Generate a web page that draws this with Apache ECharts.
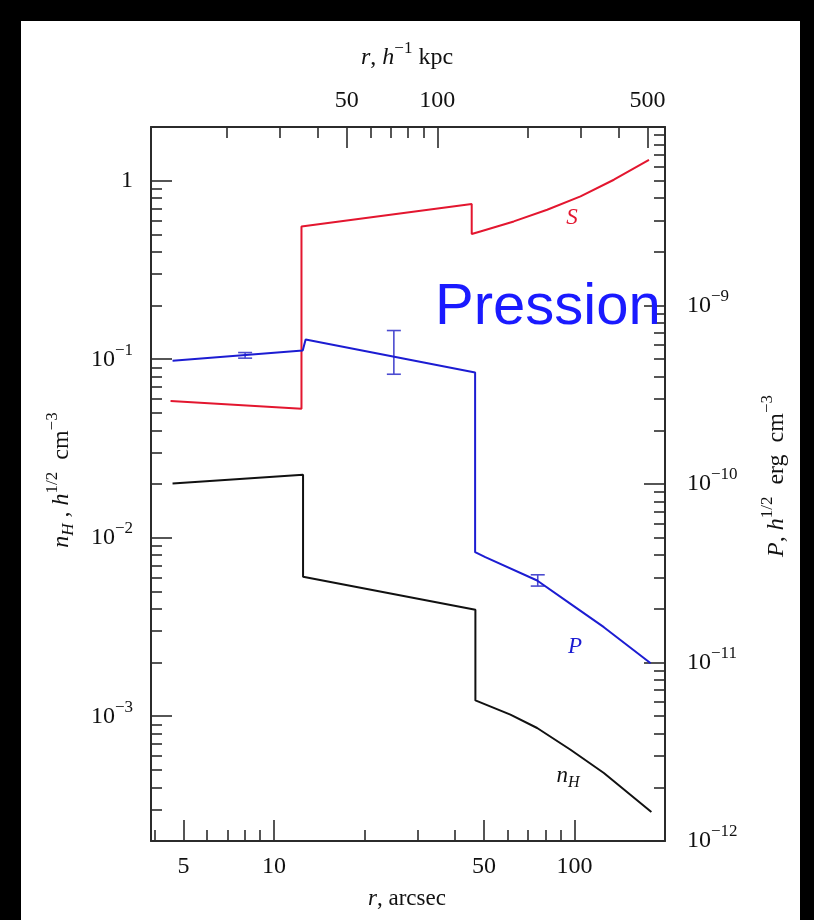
<!DOCTYPE html>
<html><head><meta charset="utf-8">
<script src="https://cdn.jsdelivr.net/npm/echarts@6/dist/echarts.min.js"></script>
<style>
html,body{margin:0;padding:0;background:#000;width:814px;height:920px;overflow:hidden}
#bg{position:absolute;left:21px;top:21px;width:779px;height:899px;background:#fff}
#chart{position:absolute;left:0;top:0;width:814px;height:920px}
</style></head><body><div id="bg"></div><div id="chart"></div>
<script>
// ---- data ----
// radius in arcsec
const nH_r = [4.60, 12.50, 12.50, 46.8, 46.8, 61.2, 75.1, 97.0, 125.2, 180.2];
const nH_v = [0.0201, 0.02254, 0.00605, 0.00395, 0.001226, 0.00102, 8.59e-4, 6.49e-4, 4.81e-4, 2.905e-4];
const S_r = [4.53, 12.35, 12.35, 45.5, 45.5, 48.6, 62.8, 81.1, 104.7, 135.2, 176.9];
const S_v = [0.0583, 0.0528, 0.5546, 0.7404, 0.5029, 0.520, 0.5916, 0.688, 0.817, 1.013, 1.31];
const P_r = [4.60, 12.47, 12.75, 46.7, 46.7, 50.5, 75.1, 97.0, 125.2, 179.2];
const P_v = [4.90e-10, 5.60e-10, 6.45e-10, 4.21e-10, 4.15e-11, 3.89e-11, 2.88e-11, 2.13e-11, 1.577e-11, 9.91e-12];
const Perr_r = [8.02, 25.06, 75.45];
const Perr_lo = [5.07e-10, 4.12e-10, 2.68e-11];
const Perr_hi = [5.45e-10, 7.24e-10, 3.10e-11];

// ---- axes / ticks ----
const R_MIN = 3.9, R_MAX = 200, KPC_PER_ARCSEC = 2.86;
const bottomMajor = [5, 10, 50, 100];
const bottomMinor = [4, 6, 7, 8, 9, 20, 30, 40, 60, 70, 80, 90];
const topMajor = [50, 100, 500];
const topMinor = [20, 30, 40, 60, 70, 80, 90, 200, 300, 400];
const leftMajor = [1e-3, 1e-2, 1e-1, 1];
const leftMinor = [3e-4,4e-4,5e-4,6e-4,7e-4,8e-4,9e-4,
  2e-3,3e-3,4e-3,5e-3,6e-3,7e-3,8e-3,9e-3,
  2e-2,3e-2,4e-2,5e-2,6e-2,7e-2,8e-2,9e-2,
  0.2,0.3,0.4,0.5,0.6,0.7,0.8,0.9];
const rightMajor = [1e-12, 1e-11, 1e-10, 1e-9, 1e-8];
const rightLabels = [1e-12, 1e-11, 1e-10, 1e-9];
const rightMinor = [2e-12,3e-12,4e-12,5e-12,6e-12,7e-12,8e-12,9e-12,
  2e-11,3e-11,4e-11,5e-11,6e-11,7e-11,8e-11,9e-11,
  2e-10,3e-10,4e-10,5e-10,6e-10,7e-10,8e-10,9e-10,
  2e-9,3e-9,4e-9,5e-9,6e-9,7e-9,8e-9,9e-9];

const SERIF = 'Liberation Serif';
const FRAME = '#2b2b2b';
const RED = '#e3162f', BLUE = '#1c1cd2', ERRBLUE = '#4b4bd0', BLACK = '#111';

const zip = (a, b) => a.map((v, i) => [v, b[i]]);

function powLabel(v) {
  const e = Math.round(Math.log10(v));
  if (e === 0) return '{b|1}';
  return '{b|10}{s|' + (e < 0 ? '\u2212' : '') + Math.abs(e) + '}';
}
const labelRich = {
  b: {fontFamily: SERIF, fontSize: 24, color: '#111'},
  s: {fontFamily: SERIF, fontSize: 17, color: '#111', padding: [0, 0, 18, 0]}
};

function majorAxis(pos, min, max, ticks, labels, fmt, margin) {
  return {
    type: 'log', position: pos, min: min, max: max,
    axisLine: {show: true, onZero: false, lineStyle: {color: FRAME, width: 2}},
    axisTick: {show: true, inside: true, length: 21, customValues: ticks, lineStyle: {color: FRAME, width: 1.6}},
    axisLabel: {show: true, margin: margin, customValues: labels, formatter: fmt, rich: labelRich,
      fontFamily: SERIF, fontSize: 24, color: '#111'},
    splitLine: {show: false}, minorTick: {show: false}, axisPointer: {show: false}
  };
}
function minorAxis(pos, min, max, ticks) {
  return {
    type: 'log', position: pos, min: min, max: max,
    axisLine: {show: false, onZero: false},
    axisTick: {show: true, inside: true, length: 11, customValues: ticks, lineStyle: {color: FRAME, width: 1.6}},
    axisLabel: {show: false},
    splitLine: {show: false}, minorTick: {show: false}
  };
}
const numFmt = v => '{b|' + Math.round(v) + '}';

const itText = (txt, x, y, color, rot, fs) => {
  fs = fs || 23;
  const ss = Math.round(fs * 0.7);
  return {
    type: 'text', x: x, y: y, rotation: rot || 0, z: 50,
    style: {
      text: txt, align: 'center', verticalAlign: 'middle', fill: color,
      rich: {
        i: {fontFamily: SERIF, fontStyle: 'italic', fontSize: fs, color: color},
        n: {fontFamily: SERIF, fontSize: fs, color: color},
        s: {fontFamily: SERIF, fontSize: ss, color: color, padding: [0, 0, Math.round(fs * 0.75), 0]},
        sub: {fontFamily: SERIF, fontStyle: 'italic', fontSize: ss, color: color, padding: [Math.round(fs * 0.55), 0, 0, 0]}
      }
    }
  };
};

const chart = echarts.init(document.getElementById('chart'), null, {renderer: 'canvas'});
chart.setOption({
  animation: false,
  backgroundColor: 'transparent',
  grid: {left: 151, top: 127, width: 514, height: 714},
  xAxis: [
    majorAxis('bottom', R_MIN, R_MAX, bottomMajor, bottomMajor, numFmt, 14),
    minorAxis('bottom', R_MIN, R_MAX, bottomMinor),
    majorAxis('top', R_MIN * KPC_PER_ARCSEC, R_MAX * KPC_PER_ARCSEC, topMajor, topMajor, numFmt, 14),
    minorAxis('top', R_MIN * KPC_PER_ARCSEC, R_MAX * KPC_PER_ARCSEC, topMinor)
  ],
  yAxis: [
    majorAxis('left', 2e-4, 2, leftMajor, leftMajor, powLabel, 18),
    minorAxis('left', 2e-4, 2, leftMinor),
    majorAxis('right', 1e-12, 1e-8, rightMajor, rightLabels, powLabel, 22),
    minorAxis('right', 1e-12, 1e-8, rightMinor)
  ],
  series: [
    {type: 'line', name: 'S', xAxisIndex: 0, yAxisIndex: 0, data: zip(S_r, S_v),
      showSymbol: false, silent: true, lineStyle: {color: RED, width: 2}, itemStyle: {color: RED}},
    {type: 'line', name: 'nH', xAxisIndex: 0, yAxisIndex: 0, data: zip(nH_r, nH_v),
      showSymbol: false, silent: true, lineStyle: {color: BLACK, width: 2}, itemStyle: {color: BLACK}},
    {type: 'line', name: 'P', xAxisIndex: 0, yAxisIndex: 2, data: zip(P_r, P_v),
      showSymbol: false, silent: true, lineStyle: {color: BLUE, width: 2}, itemStyle: {color: BLUE}},
    {type: 'custom', name: 'Perr', xAxisIndex: 0, yAxisIndex: 2, silent: true,
      data: Perr_r.map((r, i) => [r, Perr_lo[i], Perr_hi[i]]),
      encode: {x: 0, y: [1, 2]},
      renderItem: function (params, api) {
        const x = api.value(0);
        const lo = api.coord([x, api.value(1)]);
        const hi = api.coord([x, api.value(2)]);
        const w = 7;
        const st = {stroke: ERRBLUE, lineWidth: 1.6};
        return {type: 'group', children: [
          {type: 'line', shape: {x1: lo[0], y1: lo[1], x2: hi[0], y2: hi[1]}, style: st},
          {type: 'line', shape: {x1: lo[0] - w, y1: lo[1], x2: lo[0] + w, y2: lo[1]}, style: st},
          {type: 'line', shape: {x1: hi[0] - w, y1: hi[1], x2: hi[0] + w, y2: hi[1]}, style: st}
        ]};
      }
    }
  ],
  graphic: [
    itText('{i|r}{n|, }{i|h}{s|\u22121}{n| kpc}', 407, 58, '#111', 0, 24),
    itText('{i|r}{n|, arcsec}', 407, 899, '#111', 0, 23),
    itText('{i|n}{sub|H}{n| , }{i|h}{s|1/2}{n|  cm}{s|\u22123}', 62, 480, '#111', Math.PI / 2, 24),
    itText('{i|P}{n|, }{i|h}{s|1/2}{n|  erg  cm}{s|\u22123}', 777, 476, '#111', Math.PI / 2, 24),
    itText('{i|S}', 572, 218, RED, 0, 23),
    itText('{i|P}', 575, 647, BLUE, 0, 23),
    itText('{i|n}{sub|H}', 568, 776, '#111', 0, 23),
    {type: 'text', x: 435, y: 308, z: 60,
      style: {text: 'Pression', fontFamily: 'Liberation Sans', fontSize: 58, fill: '#1a1aff',
        align: 'left', verticalAlign: 'middle'}}
  ]
});
</script></body></html>
